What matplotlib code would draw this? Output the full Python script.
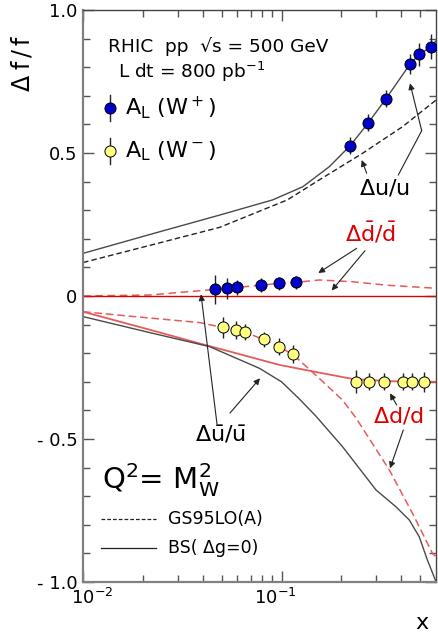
import numpy as np
import matplotlib
matplotlib.use("Agg")
import matplotlib.pyplot as plt
import matplotlib.transforms as mtransforms
from matplotlib.ticker import FixedLocator, FixedFormatter, NullFormatter

plt.rcParams['font.family'] = ['DejaVu Sans']
plt.rcParams['mathtext.fontset'] = 'dejavusans'
plt.rcParams['mathtext.default'] = 'regular'

# ---------------- data ----------------
# Delta u/u, BS (solid)
bs_u_x = [0.01, 0.0217, 0.0488, 0.0902, 0.128, 0.174, 0.222, 0.274, 0.336, 0.443, 0.495, 0.567, 0.6]
bs_u_y = [0.149, 0.215, 0.283, 0.336, 0.382, 0.452, 0.526, 0.606, 0.690, 0.810, 0.845, 0.872, 0.892]
# Delta u/u, GS95 (dashed)
gs_u_x = [0.01, 0.0217, 0.0488, 0.107, 0.155, 0.256, 0.407, 0.6]
gs_u_y = [0.117, 0.177, 0.240, 0.336, 0.406, 0.499, 0.592, 0.685]
# Delta dbar/dbar (red dashed)
dbar_x = [0.01, 0.0217, 0.0387, 0.046, 0.0594, 0.0794, 0.0966, 0.119, 0.155, 0.227, 0.336, 0.6]
dbar_y = [0.0, 0.0035, 0.0185, 0.023, 0.030, 0.038, 0.044, 0.048, 0.056, 0.050, 0.038, 0.027]
# zero line (red solid)
zero_x = [0.01, 0.6]
zero_y = [0.0, 0.0]
# red dashed lower (through W- points, then Delta d/d)
dd_dash_x = [0.01, 0.0217, 0.0387, 0.0507, 0.0587, 0.0651, 0.0812, 0.0966, 0.114, 0.155, 0.203, 0.238, 0.349, 0.457, 0.576, 0.6]
dd_dash_y = [-0.055, -0.077, -0.093, -0.110, -0.119, -0.126, -0.152, -0.177, -0.204, -0.288, -0.364, -0.428, -0.608, -0.760, -0.900, -0.912]
# red solid lower (Delta d/d plateau)
dd_sol_x = [0.01, 0.0217, 0.0387, 0.0548, 0.0977, 0.155, 0.228, 0.349, 0.6]
dd_sol_y = [-0.055, -0.118, -0.166, -0.194, -0.241, -0.268, -0.290, -0.298, -0.300]
# gray solid lower
ubar_x = [0.01, 0.0217, 0.0434, 0.0775, 0.1, 0.123, 0.149, 0.203, 0.299, 0.377, 0.440, 0.494, 0.543, 0.6]
ubar_y = [-0.072, -0.128, -0.177, -0.253, -0.300, -0.360, -0.420, -0.527, -0.678, -0.737, -0.783, -0.842, -0.923, -0.999]

# A_L(W+) points
wp_hi_x = [0.222, 0.274, 0.336, 0.443, 0.495, 0.567]
wp_hi_y = [0.526, 0.606, 0.690, 0.810, 0.845, 0.872]
wp_hi_e = [0.03, 0.03, 0.03, 0.035, 0.04, 0.045]
wp_lo_x = [0.046, 0.0531, 0.0596, 0.0791, 0.0966, 0.1186]
wp_lo_y = [0.023, 0.027, 0.030, 0.038, 0.044, 0.048]
wp_lo_e = [0.05, 0.037, 0.027, 0.025, 0.022, 0.023]
# A_L(W-) points
wm_mid_x = [0.0507, 0.0587, 0.0651, 0.0812, 0.0966, 0.114]
wm_mid_y = [-0.110, -0.119, -0.126, -0.152, -0.177, -0.204]
wm_mid_e = [0.038, 0.03, 0.027, 0.027, 0.03, 0.032]
wm_hi_x = [0.237, 0.275, 0.327, 0.409, 0.454, 0.521]
wm_hi_y = [-0.30, -0.30, -0.30, -0.30, -0.30, -0.30]
wm_hi_e = [0.04, 0.03, 0.03, 0.03, 0.03, 0.035]

yticks = [-1.0, -0.5, 0.0, 0.5, 1.0]
ytick_labels = ['- 1.0', '- 0.5', '0', '0.5', '1.0']
xticks = [0.01, 0.1]
xtick_labels = [r'$10^{-2}$', r'$10^{-1}$']

# ---------------- figure ----------------
W, H = 438, 634
fig = plt.figure(figsize=(W/100, H/100), dpi=100)
L, R, T, B = 83, 436, 10, 582
ax = fig.add_axes([L/W, 1-B/H, (R-L)/W, (B-T)/H])
ax.set_xscale('log')
ax.set_xlim(0.01, 0.6)
ax.set_ylim(-1.0, 1.0)

def af(px, py):
    return ((px-L)/(R-L), (B-py)/(B-T))

gray = '#4a4a4a'
red = '#dd0000'
pink = '#e85a5a'

ax.plot(bs_u_x, bs_u_y, color=gray, lw=1.0)
ax.plot(gs_u_x, gs_u_y, color='#222222', lw=1.0, dashes=(4, 2.2))
ax.plot(dbar_x, dbar_y, color=pink, lw=1.1, dashes=(5, 3))
ax.plot(zero_x, zero_y, color=red, lw=1.0)
ax.plot(dd_dash_x, dd_dash_y, color=pink, lw=1.1, dashes=(5, 2.5))
ax.plot(dd_sol_x, dd_sol_y, color=pink, lw=1.3)
ax.plot(ubar_x, ubar_y, color=gray, lw=1.0)

mk = dict(fmt='o', ms=8, mec='k', mew=0.7, ecolor='#222222', elinewidth=1.0, capsize=0, zorder=5)
ax.errorbar(wp_hi_x, wp_hi_y, yerr=wp_hi_e, mfc='#0000cc', **mk)
ax.errorbar(wp_lo_x, wp_lo_y, yerr=wp_lo_e, mfc='#0000cc', **mk)
ax.errorbar(wm_mid_x, wm_mid_y, yerr=wm_mid_e, mfc='#ffff80', **mk)
ax.errorbar(wm_hi_x, wm_hi_y, yerr=wm_hi_e, mfc='#ffff80', **mk)

# ticks
ax.yaxis.set_major_locator(FixedLocator(yticks))
ax.yaxis.set_major_formatter(FixedFormatter(ytick_labels))
ax.yaxis.set_minor_locator(FixedLocator(np.round(np.arange(-1.0, 1.01, 0.1), 2)))
ax.xaxis.set_major_locator(FixedLocator(xticks))
ax.xaxis.set_major_formatter(NullFormatter())
ax.xaxis.set_minor_locator(FixedLocator([0.02, 0.03, 0.04, 0.05, 0.06, 0.07, 0.08, 0.09, 0.2, 0.3, 0.4, 0.5]))
ax.xaxis.set_minor_formatter(NullFormatter())
ax.tick_params(which='both', direction='in', top=True, right=True, color='#555555', width=1.0)
ax.tick_params(which='major', length=8)
ax.tick_params(which='minor', length=5)
ax.tick_params(axis='y', labelsize=13, pad=4)
for s in ['left', 'bottom']:
    ax.spines[s].set_color('#808080')
    ax.spines[s].set_linewidth(1.6)
for s in ['top', 'right']:
    ax.spines[s].set_color('#444444')
    ax.spines[s].set_linewidth(1.0)

# x tick labels (placed like the original, slightly off-centre)
xlab_trans = mtransforms.blended_transform_factory(ax.transData, ax.transAxes)
for xv, lab, dx in zip(xticks, xtick_labels, [9.5, -6]):
    off = mtransforms.ScaledTranslation(dx/100, 0, fig.dpi_scale_trans)
    ax.text(xv, af(0, 598)[1], lab, transform=xlab_trans + off, fontsize=13, ha='center', va='center', clip_on=False)

# texts
ax.text(*af(108, 47), 'RHIC  pp  √s = 500 GeV', transform=ax.transAxes, fontsize=13.3, va='center', ha='left')
ax.text(*af(118, 72), r'L dt = 800 pb$^{-1}$', transform=ax.transAxes, fontsize=13.3, va='center', ha='left')
ax.text(*af(125, 108), r'A$_\mathrm{L}$ (W$^+$)', transform=ax.transAxes, fontsize=16, va='center', ha='left')
ax.text(*af(125, 151), r'A$_\mathrm{L}$ (W$^-$)', transform=ax.transAxes, fontsize=16, va='center', ha='left')
for py, col in [(108, '#0000cc'), (151, '#ffff80')]:
    x0, y0 = af(110, py)
    ax.plot([x0, x0], [y0-0.023, y0+0.023], transform=ax.transAxes, color='#222222', lw=1.0, zorder=5)
    ax.plot([x0], [y0], 'o', transform=ax.transAxes, ms=8, mfc=col, mec='k', mew=0.7, zorder=6)

ax.text(*af(384, 188), r'$\Delta u/u$', transform=ax.transAxes, fontsize=16, ha='center', va='center')
ax.text(*af(370, 233), r'$\Delta\bar{d}/\bar{d}$', transform=ax.transAxes, fontsize=16, ha='center', va='center', color=red)
ax.text(*af(220, 435), r'$\Delta\bar{u}/\bar{u}$', transform=ax.transAxes, fontsize=16, ha='center', va='center')
ax.text(*af(398, 416), r'$\Delta d/d$', transform=ax.transAxes, fontsize=16, ha='center', va='center', color=red)
ax.text(*af(102, 480), r'Q$^2$= M$_W^2$', transform=ax.transAxes, fontsize=21, ha='left', va='center')

x1, y1 = af(101, 519); x2, _ = af(156, 519)
ax.plot([x1, x2], [y1, y1], transform=ax.transAxes, color='#222222', lw=0.9, dashes=(3, 1.6))
ax.text(*af(168, 519), 'GS95LO(A)', transform=ax.transAxes, fontsize=12.5, ha='left', va='center')
x1, y1 = af(101, 548); x2, _ = af(156, 548)
ax.plot([x1, x2], [y1, y1], transform=ax.transAxes, color='#222222', lw=0.9)
ax.text(*af(168, 548), 'BS( Δg=0)', transform=ax.transAxes, fontsize=12.5, ha='left', va='center')

# arrows
ap = dict(arrowstyle='-|>', color='#222222', lw=0.8, mutation_scale=9, shrinkA=0, shrinkB=0)
arrows = [((366.7, 173.3), (361.7, 160)),
          ((421.7, 130.7), (410, 83.3)),
          ((356.7, 248.3), (318.3, 273)),
          ((365, 250.7), (331.7, 290.5)),
          ((217, 424), (201, 294.3)),
          ((230, 413), (260, 378.3)),
          ((403.3, 430), (390, 468.3)),
          ((396.7, 405), (390, 393.3))]
for tail, head in arrows:
    ax.annotate('', xy=af(*head), xytext=af(*tail), xycoords='axes fraction', textcoords='axes fraction', arrowprops=ap)
p1 = af(398.3, 175); p2 = af(421.7, 130.7)
ax.plot([p1[0], p2[0]], [p1[1], p2[1]], transform=ax.transAxes, color='#222222', lw=0.8)

fig.text(22/W, 1-63/H, r'$\Delta\;f\,/\,f$', rotation=90, fontsize=17, ha='center', va='center')
fig.text(422/W, 1-623/H, 'x', fontsize=16, ha='center', va='center')

fig.savefig('out.png', dpi=100)
